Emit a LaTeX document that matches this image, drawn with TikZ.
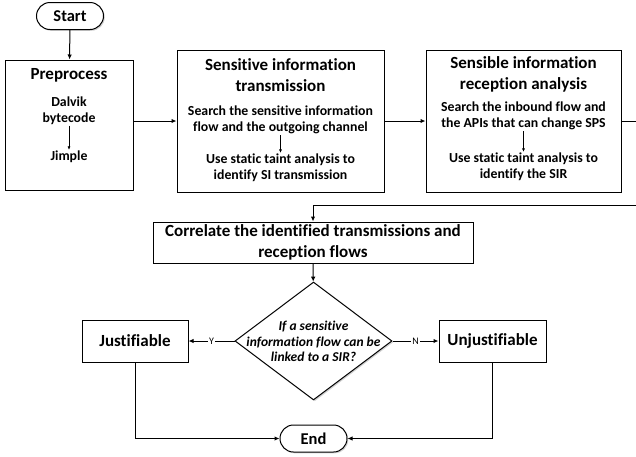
\documentclass[tikz,border=0pt]{standalone}
\usepackage{fontspec}
\setmainfont{Carlito}[Ligatures=NoCommon]
\usetikzlibrary{shapes.geometric,shapes.misc,shadows,arrows.meta}

\tikzset{
  arrow/.style={line width=1pt,-{Latex[length=5pt,width=4.5pt]}},
  thin arrow/.style={line width=0.6pt,-{Latex[length=3.5pt,width=3pt]}},
  box/.style={draw,line width=1pt,fill=white,
    drop shadow={shadow xshift=1.3pt,shadow yshift=-1.3pt,opacity=0.35}},
  terminal/.style={box,rounded rectangle,minimum height=27pt,inner sep=0pt,
    font=\fontsize{16.5}{20}\selectfont\bfseries},
  decision/.style={box,diamond,minimum width=157pt,minimum height=118pt,inner sep=0pt},
  title/.style={align=center,inner sep=1pt,font=\fontsize{17}{21.5}\selectfont\bfseries},
  body/.style={align=center,inner sep=1pt,font=\fontsize{13.8}{16}\selectfont\bfseries},
  ask/.style={align=center,inner sep=1pt,font=\fontsize{13.5}{15.5}\selectfont\bfseries\itshape},
  lbl/.style={fill=white,inner sep=1pt,font=\fontsize{10}{11}\selectfont}
}

\begin{document}
\begin{tikzpicture}[x=1pt,y=-1pt]
  \useasboundingbox (0,0) rectangle (636,456);
  \clip (0,0) rectangle (636,456);

  % start and end
  \node[terminal,minimum width=67pt] (start) at (70,16) {Start};
  \node[terminal,minimum width=67pt] (end) at (313.5,438.5) {End};

  % preprocessing
  \node[box,minimum width=128pt,minimum height=130pt] (pre) at (69,125) {};
  \node[title] (pretitle) at (69,75) {Preprocess};
  \node[body] (dalvik) at (69,110.5) {Dalvik\\bytecode};
  \node[body] (jimple) at (69,157) {Jimple};
  \draw[thin arrow] (dalvik) -- (jimple);

  % sensitive information transmission
  \node[box,minimum width=207pt,minimum height=142pt] (sit) at (280.5,121) {};
  \node[title] (sittitle) at (280.5,75) {Sensitive information\\transmission};
  \node[body] (sitsearch) at (280.5,120) {Search the sensitive information\\flow and the outgoing channel};
  \node[body] (sittaint) at (280.5,168) {Use static taint analysis to\\identify SI transmission};
  \draw[thin arrow] (sitsearch) -- (sittaint);

  % sensible information reception
  \node[box,minimum width=195pt,minimum height=142pt] (sira) at (523.5,121) {};
  \node[title] (siratitle) at (523.5,74.5) {Sensible information\\reception analysis};
  \node[body] (sirasearch) at (523.5,116) {Search the inbound flow and\\the APIs that can change SPS};
  \node[body] (sirataint) at (523.5,167) {Use static taint analysis to\\identify the SIR};
  \draw[thin arrow] (sirasearch) -- (sirataint);

  % correlation and decision
  \node[box,title,inner sep=0pt,minimum width=320pt,minimum height=41pt] (corr) at (313,242.5)
    {Correlate the identified transmissions and\\reception flows};
  \node[decision] (dec) at (313.5,341) {};
  \node[ask] (question) at (313.5,341.5) {If a sensitive\\information flow can be\\linked to a SIR?};
  \node[box,title,minimum width=106pt,minimum height=42pt] (just) at (135,341) {Justifiable};
  \node[box,title,minimum width=107pt,minimum height=42pt] (unjust) at (492.5,341) {Unjustifiable};

  \coordinate (bend) at (652,205);

  \draw[arrow] (start) -- (pre);
  \draw[arrow] (pre.east |- sit.west) -- (sit.west);
  \draw[arrow] (sit) -- (sira);
  \draw[arrow] (sira.east) -| (bend) -| (corr.north);
  \draw[arrow] (corr) -- (dec);
  \draw[arrow] (dec.west) -- node[lbl] {Y} (just.east);
  \draw[arrow] (dec.east) -- node[lbl] {N} (unjust.west);
  \draw[arrow] (just.south) |- (end.west);
  \draw[arrow] (unjust.south) |- (end.east);
\end{tikzpicture}
\end{document}
